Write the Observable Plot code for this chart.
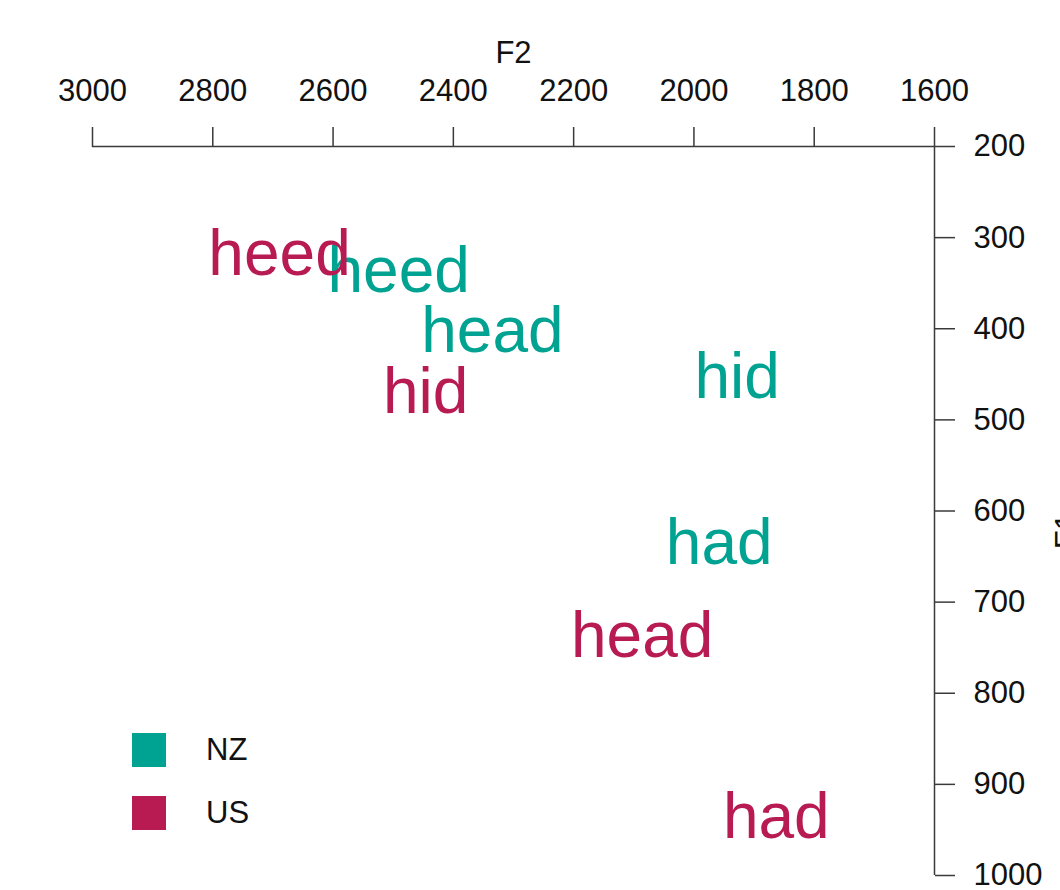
<!DOCTYPE html>
<html>
<head>
<meta charset="utf-8">
<script src="https://cdn.jsdelivr.net/npm/d3@7"></script>
<script src="https://cdn.jsdelivr.net/npm/@observablehq/plot@0.6"></script>
<style>
  html, body { margin: 0; padding: 0; background: white; }
  #wrap { position: relative; width: 1060px; height: 890px; overflow: hidden; font-family: "Liberation Sans", Arial, sans-serif; }
  #legend { position: absolute; left: 132px; top: 733px; }
  .row { display: flex; align-items: center; height: 34px; margin-bottom: 29px; }
  .sw { width: 34px; height: 34px; margin-right: 40px; }
  .lab { font-size: 31px; color: #111; line-height: 34px; }
</style>
</head>
<body>
<div id="wrap"></div>
<script>
// Vowel formant data (F1, F2 in Hz)
const words  = ["heed", "hid",  "head", "had",  "heed", "hid",  "head", "had"];
const groups = ["NZ",   "NZ",   "NZ",   "NZ",   "US",   "US",   "US",   "US"];
const f2     = [2491,   1928,   2335,   1958,   2689,   2446,   2086,   1863];
const f1     = [337,    453,    403,    636,    319,    470,    738,    936];

const groupNames = ["NZ", "US"];
const groupColors = ["#00a392", "#b81a52"];
const xTicks = [3000, 2800, 2600, 2400, 2200, 2000, 1800, 1600];
const yTicks = [200, 300, 400, 500, 600, 700, 800, 900, 1000];
const xDomain = [3000, 1600];
const yDomain = [1000, 200];

const data = words.map((w, i) => ({word: w, group: groups[i], F2: f2[i], F1: f1[i]}));
const axisColor = "#3a3a3a";

const plot = Plot.plot({
  width: 1060,
  height: 890,
  marginLeft: 92,
  marginRight: 126,
  marginTop: 146,
  marginBottom: 15,
  style: {fontSize: "31px", fontFamily: "Liberation Sans, Arial, sans-serif", color: "#111", background: "white"},
  x: {domain: xDomain},
  y: {domain: yDomain},
  color: {domain: groupNames, range: groupColors},
  marks: [
    Plot.ruleY([yDomain[1]], {x1: xDomain[0], x2: xDomain[1], stroke: axisColor, strokeWidth: 1.5}),
    Plot.ruleX([xDomain[1]], {y1: yDomain[1], y2: yDomain[0], stroke: axisColor, strokeWidth: 1.5}),
    Plot.axisX({anchor: "top", ticks: xTicks, tickSize: 20, tickPadding: 26, tickFormat: d => String(d), label: null, stroke: axisColor, strokeWidth: 1.5}),
    Plot.axisY({anchor: "right", ticks: yTicks, tickSize: 20, tickPadding: 19, tickFormat: d => String(d), label: null, stroke: axisColor, strokeWidth: 1.5}),
    Plot.text(["F2"], {frameAnchor: "top", lineAnchor: "bottom", dy: -84, fontSize: 31, fill: "#111"}),
    Plot.text(["F1"], {frameAnchor: "right", dx: 133, dy: 2, rotate: -90, fontSize: 31, fill: "#111"}),
    Plot.text(data, {x: "F2", y: "F1", text: "word", fill: "group", fontSize: 64})
  ]
});

const wrap = document.getElementById("wrap");
wrap.appendChild(plot);

const color = plot.scale("color");
const legend = document.createElement("div");
legend.id = "legend";
groupNames.forEach(g => {
  const row = document.createElement("div");
  row.className = "row";
  const sw = document.createElement("div");
  sw.className = "sw";
  sw.style.background = color.apply(g);
  const lab = document.createElement("span");
  lab.className = "lab";
  lab.textContent = g;
  row.appendChild(sw);
  row.appendChild(lab);
  legend.appendChild(row);
});
wrap.appendChild(legend);
</script>
</body>
</html>
